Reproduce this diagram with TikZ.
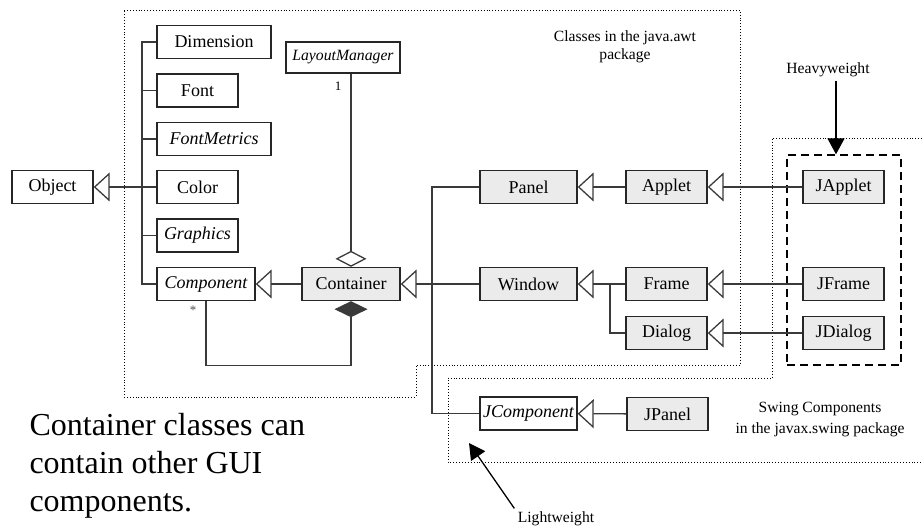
\documentclass[tikz,border=0pt]{standalone}
\usepackage{fontspec}
\setmainfont{Liberation Serif}
\usetikzlibrary{arrows.meta}
\definecolor{box-gray}{HTML}{EBEBEB}
\definecolor{line-gray}{HTML}{3A3A3A}

\begin{document}
\begin{tikzpicture}[x=1pt, y=-1pt,
    every node/.style={font=\fontsize{18}{20}\selectfont},
    cls/.style={draw=black!85, line width=1.4pt, fill=white,
      minimum height=33pt, inner sep=0pt},
    grey/.style={cls, fill=box-gray},
    link/.style={draw=line-gray, line width=1.3pt},
    inherits/.style={link, -{Triangle[open, length=16pt, width=29pt]}},
    pointer/.style={line width=1.3pt, -{Triangle[length=16pt, width=17pt]}},
    note/.style={font=\fontsize{15.6}{18}\selectfont, align=center}]
    \useasboundingbox (0,0) rectangle (922,531);

    % package outlines
    \draw[dotted, line width=0.9pt] (124,10) -- (740,10) -- (740,365)
      -- (416,365) -- (416,397) -- (124,397) -- cycle;
    \draw[dotted, line width=0.9pt] (922,138) -- (772,138) -- (772,378)
      -- (448,378) -- (448,462) -- (922,462);

    % java.awt classes
    \node[cls, minimum width=81pt] (obj) at (52.5,187) {Object};
    \node[cls, minimum width=114pt] (dim) at (214,42) {Dimension};
    \node[cls, minimum width=81pt] (font) at (197.5,90.5) {Font};
    \node[cls, minimum width=114pt] (fmet) at (214,139) {\itshape FontMetrics};
    \node[cls, minimum width=81pt] (color) at (197.5,187) {Color};
    \node[cls, minimum width=81pt] (gfx) at (197.5,235.5) {\itshape Graphics};
    \node[cls, minimum width=98pt] (comp) at (206,284) {\itshape Component};
    \node[cls, minimum width=114pt, minimum height=31pt] (lmgr) at (343,57.5)
      {\fontsize{15.7}{18}\selectfont\itshape LayoutManager};
    \node[grey, minimum width=98pt] (cont) at (351,284) {Container};
    \node[grey, minimum width=97pt] (panel) at (528.5,187) {Panel};
    \node[grey, minimum width=81pt] (applet) at (666.5,187) {Applet};
    \node[grey, minimum width=97pt] (window) at (528.5,284) {Window};
    \node[grey, minimum width=81pt] (frame) at (666.5,284) {Frame};
    \node[grey, minimum width=81pt] (dialog) at (666.5,333) {Dialog};

    % javax.swing classes
    \node[draw, dashed, dash pattern=on 8pt off 5pt, line width=1.4pt,
      minimum width=114pt, minimum height=210pt] (heavy) at (844,260) {};
    \node[grey, minimum width=81pt] (japplet) at (843.5,187) {JApplet};
    \node[grey, minimum width=81pt] (jframe) at (843.5,284) {JFrame};
    \node[grey, minimum width=81pt] (jdialog) at (843.5,333) {JDialog};
    \node[cls, minimum width=97pt] (jcomp) at (528.5,413.5) {\itshape JComponent};
    \node[grey, minimum width=81pt] (jpanel) at (667.5,414) {JPanel};

    % inheritance
    \coordinate (spine) at (142,187);
    \foreach \c in {dim, font, fmet, color, gfx, comp}
      \draw[link] (\c.west) -| (spine);
    \draw[inherits] (spine) -- (obj);
    \draw[inherits] (cont) -- (comp);
    \draw[inherits] (window) -- (cont);
    \coordinate (bus) at (432,284);
    \draw[link] (panel.west) -| (bus) |- (jcomp.west);
    \draw[inherits] (applet) -- (panel);
    \draw[inherits] (frame) -- (window);
    \coordinate (wbus) at (610,284);
    \draw[link] (dialog.west) -| (wbus);
    \draw[inherits] (japplet) -- (applet);
    \draw[inherits] (jframe) -- (frame);
    \draw[inherits] (jdialog) -- (dialog);
    \draw[inherits] (jpanel) -- (jcomp);

    % aggregation and composition
    \draw[link, -{Diamond[open, length=16pt, width=31pt]}]
      (lmgr.south -| cont.north) -- (cont.north);
    \node[font=\fontsize{13}{15}\selectfont] (one) at (338,86) {1};
    \draw[link, -{Diamond[length=16pt, width=33pt, fill=line-gray]}]
      (comp.south) -- ++(0,64) -| (cont.south);
    \node[font=\fontsize{13}{15}\selectfont, text=black!70] (many) at (193,310) {*};

    % labels
    \node[note, font=\fontsize{15.6}{17.7}\selectfont] (awt) at (625,47)
      {Classes in the java.awt\\package};
    \node[note, font=\fontsize{15.6}{21}\selectfont] (swing) at (820,420)
      {Swing Components\\in the javax.swing package};
    \node[note] (hwlab) at (828,70) {Heavyweight};
    \draw[pointer] ([xshift=8pt]hwlab.south) -- ([xshift=8pt]hwlab.south |- heavy.north);
    \node[note] (lwlab) at (556,519) {Lightweight};
    \coordinate (lwtip) at (469,443);
    \draw[pointer] (lwlab.north west) -- (lwtip);
    \node[font=\fontsize{32}{38}\selectfont, align=left, anchor=north west]
      (remark) at (26,410) {Container classes can\\contain other GUI\\components.};
  \end{tikzpicture}
\end{document}
